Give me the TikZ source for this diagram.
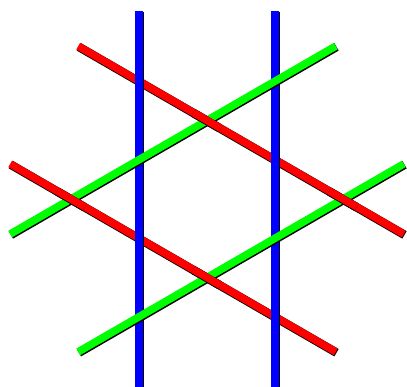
\documentclass[tikz,border=0pt]{standalone}
\usepackage{xcolor}
\usetikzlibrary{calc}
\definecolor{barred}{RGB}{255,0,0}
\definecolor{bargreen}{RGB}{0,255,0}
\definecolor{barblue}{RGB}{0,0,255}
\tikzset{
  bar/.style={line width=7.6pt, line cap=butt},
  barshadow/.style={line width=8.6pt, line cap=butt, black}
}
\newcommand{\weavebar}[3]{%
  \draw[barshadow] ($(#2)+(0.7,-0.8)$) -- ($(#3)+(0.7,-0.8)$);
  \draw[bar, #1] (#2) -- (#3);}

\begin{document}
\begin{tikzpicture}[x=1pt,y=1pt]
  \useasboundingbox (0,0) rectangle (407,387);

  \coordinate (r1a) at (78.2,340.9);  \coordinate (r1b) at (403.8,152.9);
  \coordinate (r2a) at (10.2,223.1);  \coordinate (r2b) at (335.8,35.1);
  \coordinate (g1a) at (10.2,152.9);  \coordinate (g1b) at (335.8,340.9);
  \coordinate (g2a) at (78.2,35.1);   \coordinate (g2b) at (403.8,223.1);
  \coordinate (b1a) at (139,376);     \coordinate (b1b) at (139,-2);
  \coordinate (b2a) at (275,376);     \coordinate (b2b) at (275,-2);

  % red under blue, blue under green
  \weavebar{barred}{r1a}{r1b}
  \weavebar{barred}{r2a}{r2b}
  \weavebar{barblue}{b1a}{b1b}
  \weavebar{barblue}{b2a}{b2b}
  \weavebar{bargreen}{g1a}{g1b}
  \weavebar{bargreen}{g2a}{g2b}

  % red back over green
  \foreach \cx/\cy in {207/266.5, 207/109.5, 71/188, 343/188} {
    \begin{scope}
      \clip (\cx,\cy) circle (16);
      \weavebar{barred}{r1a}{r1b}
      \weavebar{barred}{r2a}{r2b}
    \end{scope}
  }
\end{tikzpicture}
\end{document}
